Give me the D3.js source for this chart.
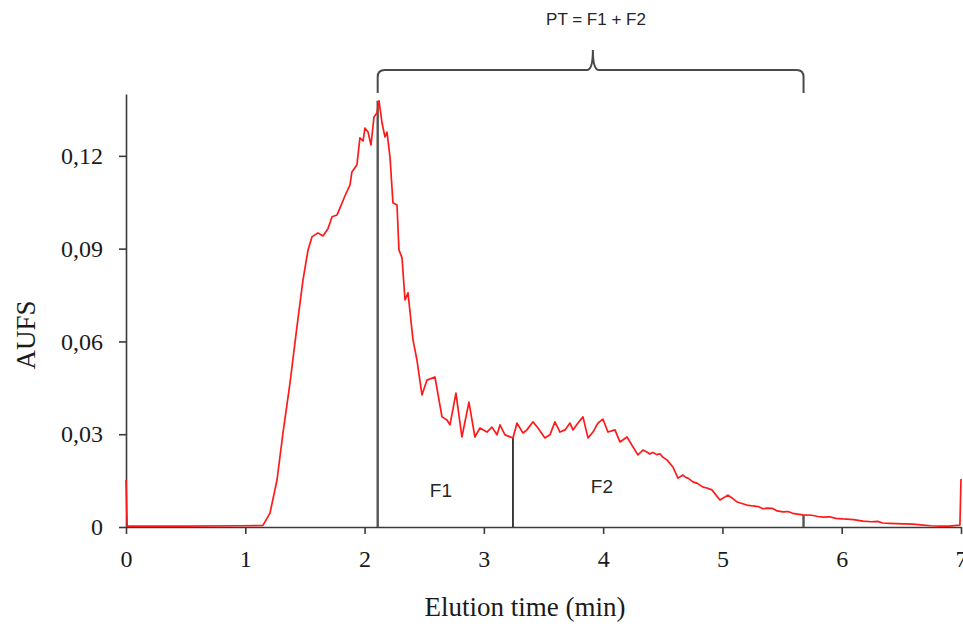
<!DOCTYPE html>
<html>
<head>
<meta charset="utf-8">
<script src="https://cdn.jsdelivr.net/npm/d3@7"></script>
<style>
  body { margin: 0; background: #fff; }
  svg { display: block; }
</style>
</head>
<body>
<svg id="chart" width="963" height="627"></svg>
<script>
// elution profile (time in min, AUFS)
const time = [0, 0.01, 0.5, 0.956, 1.148, 1.207, 1.266, 1.316, 1.375, 1.433, 1.484, 1.526, 1.559, 1.609, 1.651,
  1.693, 1.727, 1.769, 1.794, 1.836, 1.878, 1.894, 1.936, 1.961, 1.987, 2.003, 2.029, 2.054, 2.079, 2.104,
  2.121, 2.146, 2.171, 2.188, 2.213, 2.238, 2.272, 2.288, 2.314, 2.339, 2.364, 2.406, 2.439, 2.481, 2.523,
  2.59, 2.649, 2.691, 2.716, 2.766, 2.816, 2.875, 2.925, 2.967, 3.026, 3.068, 3.11, 3.135, 3.177, 3.244,
  3.278, 3.328, 3.361, 3.412, 3.454, 3.512, 3.554, 3.596, 3.638, 3.68, 3.722, 3.747, 3.789, 3.831, 3.873,
  3.915, 3.956, 3.998, 4.04, 4.099, 4.141, 4.2, 4.25, 4.292, 4.334, 4.37, 4.39, 4.417, 4.45, 4.476, 4.5,
  4.535, 4.585, 4.627, 4.669, 4.69, 4.711, 4.753, 4.79, 4.837, 4.87, 4.912, 4.979, 5.046, 5.08, 5.122,
  5.205, 5.256, 5.3, 5.34, 5.373, 5.42, 5.46,
  5.507, 5.55, 5.6, 5.675, 5.75, 5.8, 5.842, 5.9, 5.95, 6.01, 6.1, 6.178, 6.25, 6.3, 6.345, 6.4, 6.513,
  6.6, 6.681, 6.75, 6.823, 6.9, 6.991, 7.0];
const aufs = [0.0152, 0.0003, 0.0003, 0.0004, 0.0005, 0.0045, 0.0152, 0.0304, 0.0466, 0.0647, 0.0799, 0.0896, 0.0938, 0.0951, 0.0941,
  0.0964, 0.1003, 0.1009, 0.1032, 0.1071, 0.1106, 0.1148, 0.1171, 0.1258, 0.1248, 0.129, 0.1277, 0.1235, 0.1326, 0.1339,
  0.1378, 0.1307, 0.1261, 0.1277, 0.1197, 0.1048, 0.1041, 0.0896, 0.087, 0.0734, 0.0757, 0.0605, 0.054, 0.0427, 0.0475,
  0.0485, 0.0356, 0.0346, 0.033, 0.0433, 0.0291, 0.0404, 0.0291, 0.032, 0.0307, 0.0323, 0.0298, 0.033, 0.0298, 0.0288,
  0.0336, 0.0304, 0.0314, 0.034, 0.032, 0.0288, 0.0298, 0.034, 0.0307, 0.0314, 0.0336, 0.0314, 0.0336, 0.0356, 0.0288,
  0.0307, 0.0336, 0.0349, 0.0307, 0.0314, 0.0275, 0.0291, 0.0259, 0.0233, 0.0249, 0.0242, 0.0236, 0.0241, 0.0234, 0.0237, 0.0226,
  0.0217, 0.0194, 0.0158, 0.0168, 0.0161, 0.0158, 0.0146, 0.0141, 0.0129, 0.0126, 0.012, 0.0087, 0.0103, 0.0094, 0.0081,
  0.0071, 0.0068, 0.0066, 0.0059, 0.0061, 0.006, 0.0052,
  0.0049, 0.005, 0.0043, 0.0039, 0.0038, 0.0034, 0.0032, 0.0033, 0.0028, 0.0026, 0.0024, 0.0019, 0.0017, 0.0018, 0.0013, 0.0012, 0.001,
  0.0009, 0.0006, 0.0004, 0.0003, 0.0003, 0.0006, 0.0155];

// fraction cut points (F1 = start..cut, F2 = cut..end)
const cutTimes = [2.11, 3.244, 5.68];
const cutValues = [0.1378, 0.0288, 0.0039];
const fracLabels = [{name: "F1", t: 2.64, v: 0.0097}, {name: "F2", t: 3.99, v: 0.011}];

const xTicks = [0, 1, 2, 3, 4, 5, 6, 7];
const yTicks = [0, 0.03, 0.06, 0.09, 0.12];

const svg = d3.select("#chart");
const x = d3.scaleLinear().domain([0, 7]).range([126, 961]);
const y = d3.scaleLinear().domain([0, 0.14]).range([527, 94]);

const axisColor = "#3a3a3a";
const serif = "'Liberation Serif', 'Times New Roman', serif";
const sans = "'Liberation Sans', Arial, sans-serif";

// x axis
const gx = svg.append("g")
  .attr("transform", `translate(0,${y(0)})`)
  .call(d3.axisBottom(x).tickValues(xTicks).tickSize(7).tickSizeOuter(0).tickPadding(16).tickFormat(d3.format("d")));

// y axis
const gy = svg.append("g")
  .attr("transform", `translate(${x(0)},0)`)
  .call(d3.axisLeft(y).tickValues(yTicks).tickSize(7).tickSizeOuter(0).tickPadding(16)
    .tickFormat(d => d === 0 ? "0" : d3.format(".2f")(d).replace(".", ",")));

[gx, gy].forEach(g => {
  g.select(".domain").attr("stroke", axisColor).attr("stroke-width", 1.6);
  g.selectAll(".tick line").attr("stroke", axisColor).attr("stroke-width", 1.6);
  g.selectAll(".tick text")
    .attr("fill", "#1a1a1a")
    .style("font-family", serif)
    .style("font-size", "24px");
});

// cut lines
svg.selectAll(".cut")
  .data(cutTimes)
  .join("line")
    .attr("x1", d => x(d))
    .attr("x2", d => x(d))
    .attr("y1", y(0))
    .attr("y2", (d, i) => y(cutValues[i]))
    .attr("stroke", (d, i) => i === 1 ? "#2a2a2a" : "#555")
    .attr("stroke-width", (d, i) => i === 1 ? 1.8 : 2.4);

// chromatogram
const line = d3.line()
  .x((d, i) => x(time[i]))
  .y(d => y(d));

svg.append("path")
  .datum(aufs)
  .attr("d", line)
  .attr("fill", "none")
  .attr("stroke", "#ff1a1a")
  .attr("stroke-width", 1.7)
  .attr("stroke-linejoin", "round");

// brace over the whole peak
const bl = x(cutTimes[0]), br = x(cutTimes[2]), bm = x(3.914);
const bBot = 93, bTop = 70, tip = 50, r = 7;
svg.append("path")
  .attr("d", `M${bl},${bBot} L${bl},${bTop + r} Q${bl},${bTop} ${bl + r},${bTop}
    L${bm - 6},${bTop} Q${bm},${bTop} ${bm},${tip}
    Q${bm},${bTop} ${bm + 6},${bTop}
    L${br - r},${bTop} Q${br},${bTop} ${br},${bTop + r} L${br},${bBot}`)
  .attr("fill", "none")
  .attr("stroke", "#4a4a4a")
  .attr("stroke-width", 2);

svg.append("text")
  .attr("x", 596)
  .attr("y", 25)
  .attr("text-anchor", "middle")
  .attr("fill", "#262626")
  .style("font-family", sans)
  .style("font-size", "17px")
  .text("PT = F1 + F2");

svg.selectAll(".frac")
  .data(fracLabels)
  .join("text")
    .attr("x", d => x(d.t))
    .attr("y", d => y(d.v))
    .attr("text-anchor", "middle")
    .attr("fill", "#262626")
    .style("font-family", sans)
    .style("font-size", "19px")
    .text(d => d.name);

// axis titles
svg.append("text")
  .attr("x", 525)
  .attr("y", 616)
  .attr("text-anchor", "middle")
  .attr("fill", "#1a1a1a")
  .style("font-family", serif)
  .style("font-size", "27px")
  .text("Elution time (min)");

svg.append("text")
  .attr("transform", "translate(35,335) rotate(-90)")
  .attr("text-anchor", "middle")
  .attr("fill", "#1a1a1a")
  .style("font-family", serif)
  .style("font-size", "27px")
  .text("AUFS");
</script>
</body>
</html>
